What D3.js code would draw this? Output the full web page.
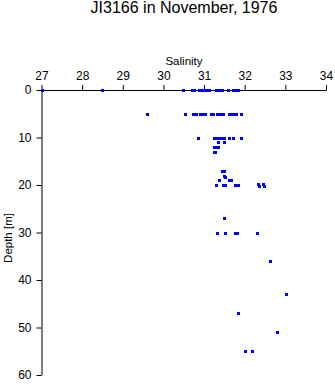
<!DOCTYPE html>
<html>
<head>
<meta charset="utf-8">
<script src="https://cdn.jsdelivr.net/npm/d3@7"></script>
<style>
  html, body { margin: 0; padding: 0; background: #fff; }
  svg { display: block; }
  text { font-family: "Liberation Sans", Arial, Helvetica, sans-serif; fill: #000; }
</style>
</head>
<body>
<svg id="chart" width="335" height="384"></svg>
<script>
const title = "JI3166 in November, 1976";
const xLabel = "Salinity";
const yLabel = "Depth [m]";
const xTicks = [27, 28, 29, 30, 31, 32, 33, 34];
const yTicks = [0, 10, 20, 30, 40, 50, 60];

const depth = [
  0, 0, 0, 0, 0, 0, 0, 0, 0, 0, 0, 0, 0, 0, 0, 0, 0, 0, 0, 0,
  5, 5, 5, 5, 5, 5, 5, 5, 5, 5, 5, 5, 5, 5, 5, 5, 5, 5,
  10, 10, 10, 10, 10, 10, 10, 10, 10,
  11, 11,
  12, 12, 12,
  13, 13,
  17, 17,
  18, 18.3,
  19, 19, 19,
  20, 20, 20, 20, 20, 19.8, 20.2, 19.8, 20.2,
  27,
  30, 30, 30, 30, 30,
  36,
  43,
  47,
  51,
  55, 55
];
const salinity = [
  27.0, 28.5, 30.49, 30.70, 30.74, 30.88, 30.93, 30.98, 31.03, 31.08, 31.12, 31.30, 31.35, 31.40, 31.44, 31.59, 31.72, 31.77, 31.81, 31.84,
  29.6, 30.53, 30.73, 30.79, 30.90, 30.96, 31.03, 31.16, 31.21, 31.32, 31.37, 31.41, 31.46, 31.62, 31.66, 31.73, 31.79, 31.92,
  30.86, 31.24, 31.30, 31.36, 31.42, 31.48, 31.61, 31.72, 31.91,
  31.34, 31.49,
  31.24, 31.29, 31.34,
  31.24, 31.27,
  31.43, 31.50,
  31.48, 31.51,
  31.37, 31.62, 31.67,
  31.29, 31.47, 31.51, 31.77, 31.84, 32.32, 32.34, 32.46, 32.48,
  31.49,
  31.32, 31.52, 31.77, 31.82, 32.30,
  32.61,
  33.01,
  31.83,
  32.79,
  32.0, 32.18
];

const svg = d3.select("#chart");

const x = d3.scaleLinear().domain([27, 34]).range([41.5, 326]);
const y = d3.scaleLinear().domain([0, 60]).range([90, 375]);

// title
svg.append("text")
  .attr("x", 184).attr("y", 13)
  .attr("text-anchor", "middle")
  .style("font-size", "16px")
  .text(title);

// x axis (top)
const gx = svg.append("g").attr("transform", "translate(0,90)")
  .call(d3.axisTop(x).tickValues(xTicks).tickSize(5).tickSizeOuter(0).tickPadding(5).tickFormat(d3.format("d")));
gx.selectAll("text").style("font-size", "12px").style("font-family", "Liberation Sans, Arial, sans-serif");

svg.append("text")
  .attr("x", 184).attr("y", 65)
  .attr("text-anchor", "middle")
  .style("font-size", "11.5px")
  .text(xLabel);

// y axis (left)
const gy = svg.append("g").attr("transform", "translate(41.5,0)")
  .call(d3.axisLeft(y).tickValues(yTicks).tickSize(5).tickSizeOuter(0).tickPadding(5).tickFormat(d3.format("d")));
gy.selectAll("text").style("font-size", "12px").style("font-family", "Liberation Sans, Arial, sans-serif");

svg.append("text")
  .attr("transform", "translate(12,238) rotate(-90)")
  .attr("text-anchor", "middle")
  .style("font-size", "11.5px")
  .text(yLabel);

svg.selectAll(".domain, .tick line").attr("stroke", "#000").attr("stroke-width", 1);

// points
const pts = depth.map((d, i) => ({ d: d, s: salinity[i] }));
svg.append("g").attr("shape-rendering", "crispEdges").selectAll("rect").data(pts).enter().append("rect")
  .attr("x", p => Math.round(x(p.s)) - 1)
  .attr("y", p => Math.round(y(p.d)) - 1)
  .attr("width", 3).attr("height", 3)
  .attr("fill", "#0000ff");
</script>
</body>
</html>
